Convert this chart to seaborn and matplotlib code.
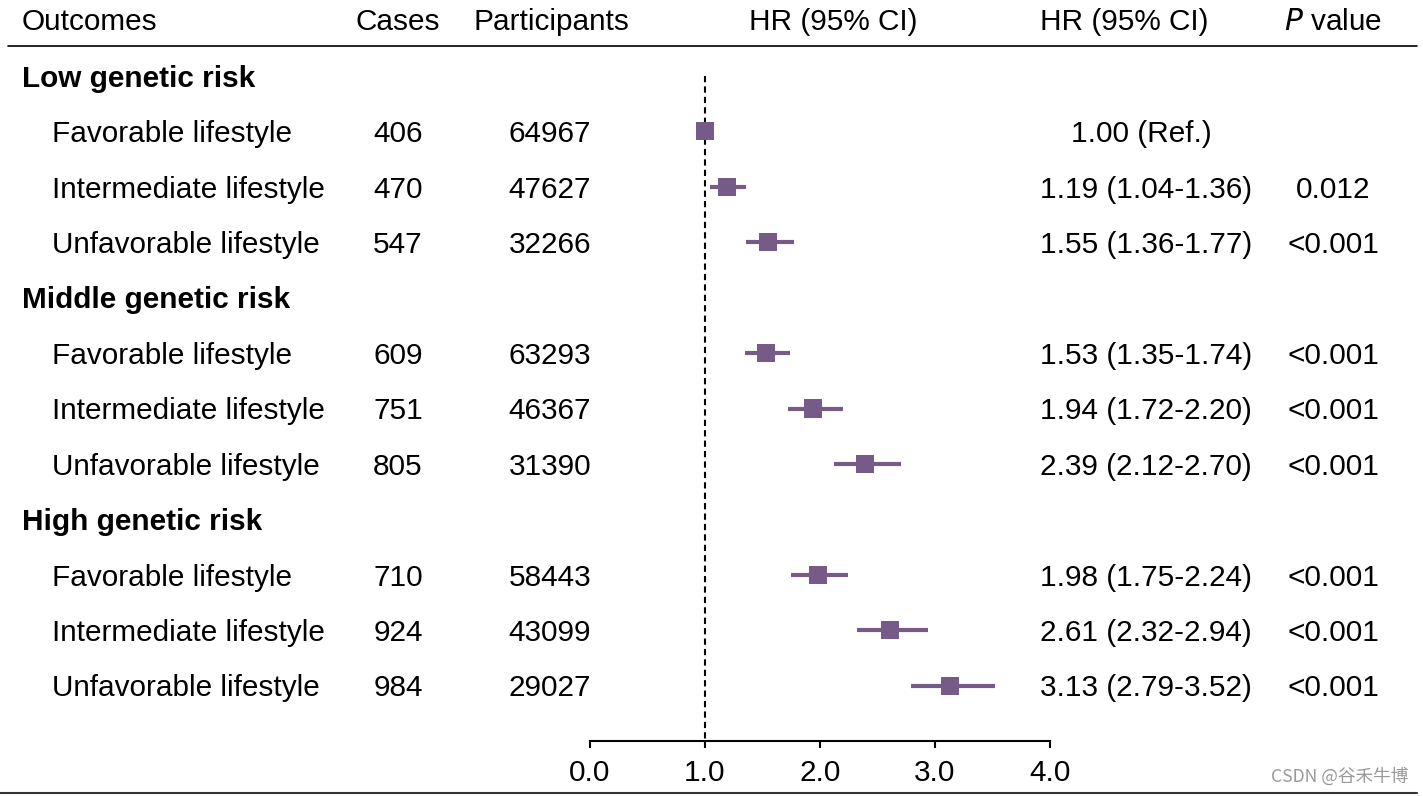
import numpy as np
import pandas as pd
import matplotlib
matplotlib.use("Agg")
import matplotlib.pyplot as plt
import matplotlib.transforms as mtransforms
from matplotlib.lines import Line2D
import seaborn as sns

# Data
groups = ["Low genetic risk", "Middle genetic risk", "High genetic risk"]
lifestyles = ["Favorable lifestyle", "Intermediate lifestyle", "Unfavorable lifestyle"]
cases = [406, 470, 547, 609, 751, 805, 710, 924, 984]
participants = [64967, 47627, 32266, 63293, 46367, 31390, 58443, 43099, 29027]
hr = [1.00, 1.19, 1.55, 1.53, 1.94, 2.39, 1.98, 2.61, 3.13]
lower = [1.00, 1.04, 1.36, 1.35, 1.72, 2.12, 1.75, 2.32, 2.79]
upper = [1.00, 1.36, 1.77, 1.74, 2.20, 2.70, 2.24, 2.94, 3.52]
p_values = ["", "0.012", "<0.001", "<0.001", "<0.001", "<0.001", "<0.001", "<0.001", "<0.001"]
xticks = [0, 1, 2, 3, 4]
xtick_labels = ["0.0", "1.0", "2.0", "3.0", "4.0"]

sns.set_style("white")
plt.rcParams["font.family"] = ["Liberation Sans", "DejaVu Sans"]
plt.rcParams["text.color"] = "black"

# row index: group header rows then 3 subgroup rows each
rows = []
group_rows = []
r = 0
for g in groups:
    group_rows.append(r)
    r += 1
    for _ in lifestyles:
        rows.append(r)
        r += 1

df = pd.DataFrame({
    "row": rows,
    "label": lifestyles * 3,
    "cases": cases,
    "participants": participants,
    "hr": hr,
    "lower": lower,
    "upper": upper,
    "p": p_values,
})

color = "#765a87"
fs = 21.4
dy = 0.05  # small nudge so text sits on the marker line like the reference

fig = plt.figure(figsize=(14.23, 7.96), dpi=100)
ax = fig.add_axes([590 / 1423, 1 - 741 / 796, 460 / 1423, (741 - 48.3) / 796])

ax.vlines(1.0, 0, 12, colors="black", linestyles=(0, (3, 2)), linewidth=1.5, zorder=1)
ax.hlines(df["row"], df["lower"], df["upper"], colors=color, linewidth=3, zorder=2)
sns.scatterplot(data=df, x="hr", y="row", marker="s", s=170, color=color,
                edgecolor="none", ax=ax, zorder=3, legend=False)

ax.set_xlim(0, 4)
ax.set_ylim(12, -0.5)
ax.set_xticks(xticks)
ax.set_xticklabels(xtick_labels, fontsize=fs)
ax.set_yticks([])
ax.set_xlabel("")
ax.set_ylabel("")
for s in ["top", "right", "left"]:
    ax.spines[s].set_visible(False)
ax.spines["bottom"].set_linewidth(1.5)
ax.spines["bottom"].set_color("black")
ax.tick_params(axis="x", direction="out", length=5, width=1.5, pad=8, colors="black",
               labelcolor="black", bottom=True)

trans = mtransforms.blended_transform_factory(fig.transFigure, ax.transData)
px = lambda x: x / 1423

# header
hy = (19 - 76) / 55.45 + dy
ax.text(px(22), hy, "Outcomes", transform=trans, fontsize=fs, va="center", ha="left", clip_on=False)
ax.text(px(398), hy, "Cases", transform=trans, fontsize=fs, va="center", ha="center", clip_on=False)
ax.text(px(551), hy, "Participants", transform=trans, fontsize=fs, va="center", ha="center", clip_on=False)
ax.text(px(833), hy, "HR (95% CI)", transform=trans, fontsize=fs, va="center", ha="center", clip_on=False)
ax.text(px(1040), hy, "HR (95% CI)", transform=trans, fontsize=fs, va="center", ha="left", clip_on=False)
ax.text(px(1333), hy, "$\\it{P}$ value", transform=trans, fontsize=fs, va="center", ha="center", clip_on=False)

for g, gr in zip(groups, group_rows):
    ax.text(px(22), gr + dy, g, transform=trans, fontsize=fs, fontweight="bold", va="center", ha="left",
            clip_on=False)

for _, d in df.iterrows():
    y = d["row"] + dy
    ax.text(px(52), y, d["label"], transform=trans, fontsize=fs, va="center", ha="left", clip_on=False)
    ax.text(px(398), y, str(d["cases"]), transform=trans, fontsize=fs, va="center", ha="center", clip_on=False)
    ax.text(px(550), y, str(d["participants"]), transform=trans, fontsize=fs, va="center", ha="center",
            clip_on=False)
    if d["p"] == "":
        ax.text(px(1141), y, f"{d['hr']:.2f} (Ref.)", transform=trans, fontsize=fs, va="center", ha="center",
                clip_on=False)
    else:
        ax.text(px(1040), y, f"{d['hr']:.2f} ({d['lower']:.2f}-{d['upper']:.2f})", transform=trans,
                fontsize=fs, va="center", ha="left", clip_on=False)
        ax.text(px(1333), y, d["p"], transform=trans, fontsize=fs, va="center", ha="center", clip_on=False)

# rules
fig.add_artist(Line2D([px(8), px(1417)], [1 - 46 / 796, 1 - 46 / 796], color="black", linewidth=1.2))
fig.add_artist(Line2D([0, px(1417)], [1 - 793 / 796, 1 - 793 / 796], color="#333333", linewidth=1.5))

fig.text(px(1408), 1 - 776 / 796, "CSDN @谷禾牛博", fontsize=12.7, color="#999999", ha="right", va="center",
         family=["Noto Sans CJK SC", "DejaVu Sans"])

fig.savefig("out.png", dpi=100, facecolor="white")
